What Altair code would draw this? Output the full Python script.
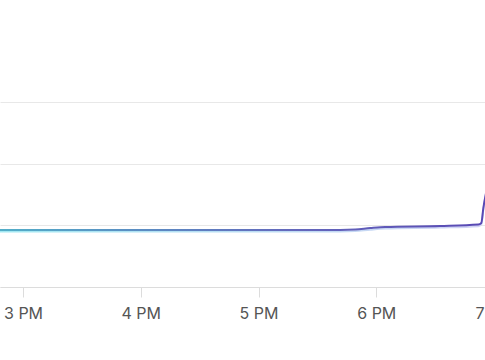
import altair as alt
import pandas as pd

times = [
    "2024-01-01T14:48:16", "2024-01-01T17:41:38", "2024-01-01T17:49:16",
    "2024-01-01T17:56:55", "2024-01-01T18:04:34", "2024-01-01T18:32:36",
    "2024-01-01T18:52:00", "2024-01-01T18:53:32", "2024-01-01T18:54:34",
    "2024-01-01T18:57:07",
]
values = [92.4, 92.4, 93.2, 95.5, 97.3, 98.9, 101.3, 103.8, 128, 170]
tick_times = [
    "2024-01-01T15:00:00", "2024-01-01T16:00:00", "2024-01-01T17:00:00",
    "2024-01-01T18:00:00", "2024-01-01T19:00:00",
]
x_domain = ["2024-01-01T14:48:16", "2024-01-01T19:00:00"]
y_ticks = [0, 100, 200, 300]

df = pd.DataFrame({"t": times, "v": values})

x = alt.X(
    "t:T",
    scale=alt.Scale(domain=x_domain),
    axis=alt.Axis(
        values=tick_times, format="%-I %p", title=None, grid=False,
        labelOverlap=False, labelFlush=False, tickSize=10, tickColor="#dcdcdc",
        domainColor="#dcdcdc", labelColor="#555555", labelFont="Inter",
        labelFontSize=16, labelPadding=8,
    ),
)
y = alt.Y(
    "v:Q",
    scale=alt.Scale(domain=[0, 300], nice=False),
    axis=alt.Axis(values=y_ticks, labels=False, ticks=False, domain=False,
                  title=None, gridColor="#e8e8e8"),
)

glow = alt.Chart(df).mark_line(
    clip=True, strokeWidth=2, yOffset=1.6, interpolate="monotone",
    color=alt.Gradient(
        gradient="linear", x1=0, x2=1, y1=0, y2=0,
        stops=[alt.GradientStop(color="#a2e8f2", offset=0),
               alt.GradientStop(color="#d2d2f4", offset=1)],
    ),
).encode(x=x, y=y)

line = alt.Chart(df).mark_line(
    clip=True, strokeWidth=2, interpolate="monotone",
    color=alt.Gradient(
        gradient="linear", x1=0, x2=1, y1=0, y2=0,
        stops=[alt.GradientStop(color="#52aec8", offset=0),
               alt.GradientStop(color="#6468bc", offset=0.6),
               alt.GradientStop(color="#5848b4", offset=1)],
    ),
).encode(x=x, y=y)

chart = alt.layer(glow, line).properties(
    width=494, height=185,
    padding={"left": 0, "top": 102, "right": -9, "bottom": 73},
    autosize=alt.AutoSizeParams(type="none"),
).configure_view(stroke=None)

chart.save("out.html", embed_options={"renderer": "svg", "actions": False})
